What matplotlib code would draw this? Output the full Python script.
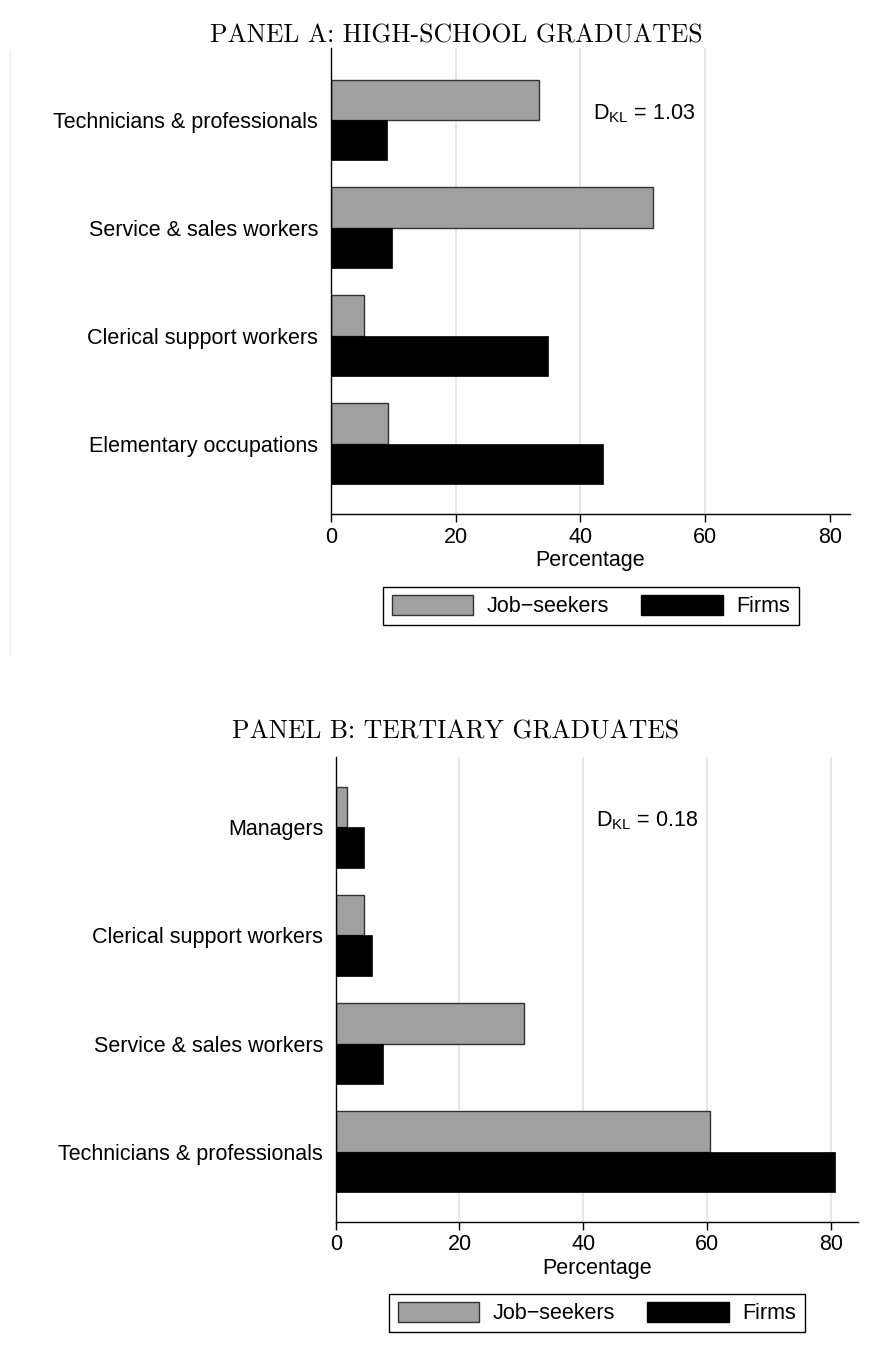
import numpy as np
import matplotlib
matplotlib.use("Agg")
import matplotlib.pyplot as plt
from matplotlib.patches import Patch
from matplotlib.lines import Line2D

plt.rcParams['font.family'] = ['Liberation Sans', 'DejaVu Sans']
plt.rcParams['mathtext.default'] = 'regular'

# panel A: high-school graduates
cats_a = ["Technicians & professionals", "Service & sales workers",
          "Clerical support workers", "Elementary occupations"]
seekers_a = [33.3, 51.7, 5.4, 9.2]
firms_a = [9.0, 9.9, 34.8, 43.6]
dkl_a = "1.03"

# panel B: tertiary graduates
cats_b = ["Managers", "Clerical support workers",
          "Service & sales workers", "Technicians & professionals"]
seekers_b = [1.9, 4.5, 30.5, 60.5]
firms_b = [4.6, 5.8, 7.7, 80.7]
dkl_b = "0.18"

xticks = [0, 20, 40, 60, 80]

GRAY = "#a0a0a0"
FS = 15.5

fig = plt.figure(figsize=(8.7, 13.59), dpi=100)

W, H = 870, 1359


def px_axes(l, t, r, b):
    return fig.add_axes([l / W, 1 - b / H, (r - l) / W, (b - t) / H])


def draw_panel(ax, cats, seekers, firms, dkl, xmax, ylim, grid_ticks):
    y = np.arange(len(cats))
    h = 0.375
    for g in grid_ticks:
        ax.axvline(g, color="#e5e5e5", lw=1.3, zorder=0)
    ax.barh(y - h / 2, seekers, height=h, color=GRAY, edgecolor="#333333",
            linewidth=1.0, zorder=2)
    ax.barh(y + h / 2, firms, height=h, color="black", edgecolor="black",
            linewidth=0.5, zorder=2)
    ax.set_xlim(0, xmax)
    ax.set_ylim(*ylim)
    ax.set_yticks(y)
    ax.set_yticklabels(cats, fontsize=FS)
    ax.tick_params(axis="y", length=0, pad=9)
    ax.set_xticks(xticks)
    ax.tick_params(axis="x", labelsize=FS, length=6, width=1, pad=3)
    ax.set_xlabel("Percentage", fontsize=FS, labelpad=2)
    for s in ["top", "right"]:
        ax.spines[s].set_visible(False)
    for s in ["left", "bottom"]:
        ax.spines[s].set_linewidth(1.0)
    # divergence measure, just right of the 40 gridline
    ax.text(42, -0.06, "D$_{KL}$ = " + dkl,
            fontsize=FS, ha="left", va="center", zorder=3)


ax_a = px_axes(330.7, 48, 850, 514)
draw_panel(ax_a, cats_a, seekers_a, firms_a, dkl_a, 83.2, (3.65, -0.667),
           [20, 40, 60])

ax_b = px_axes(335.7, 757, 858, 1222)
draw_panel(ax_b, cats_b, seekers_b, firms_b, dkl_b, 84.4, (3.65, -0.65),
           [20, 40, 60, 80])

fig.text(456 / W, 1 - 36 / H, "PANEL A: HIGH-SCHOOL GRADUATES",
         family="cmr10", fontsize=18.5, ha="center", va="center")
fig.text(456 / W, 1 - 732 / H, "PANEL B: TERTIARY GRADUATES",
         family="cmr10", fontsize=18.5, ha="center", va="center")

handles = [Patch(facecolor=GRAY, edgecolor="#333333", linewidth=1.0),
           Patch(facecolor="black", edgecolor="black")]
labels = ["Job\u2212seekers", "Firms"]
for cx, cy in [(591, 606), (597, 1313)]:
    leg = fig.legend(handles, labels, loc="center",
                     bbox_to_anchor=(cx / W, 1 - cy / H), ncol=2,
                     fontsize=FS, handlelength=3.77, handleheight=1.05,
                     handletextpad=0.65, columnspacing=1.5, borderpad=0.38,
                     fancybox=False, framealpha=1, edgecolor="black")
    leg.get_frame().set_linewidth(1.0)

# faint border line on the left of panel A
fig.add_artist(Line2D([10 / W, 10 / W], [1 - 50 / H, 1 - 655 / H],
                      color="#eeeeee", lw=1, transform=fig.transFigure))

fig.savefig("out.png", dpi=100)
